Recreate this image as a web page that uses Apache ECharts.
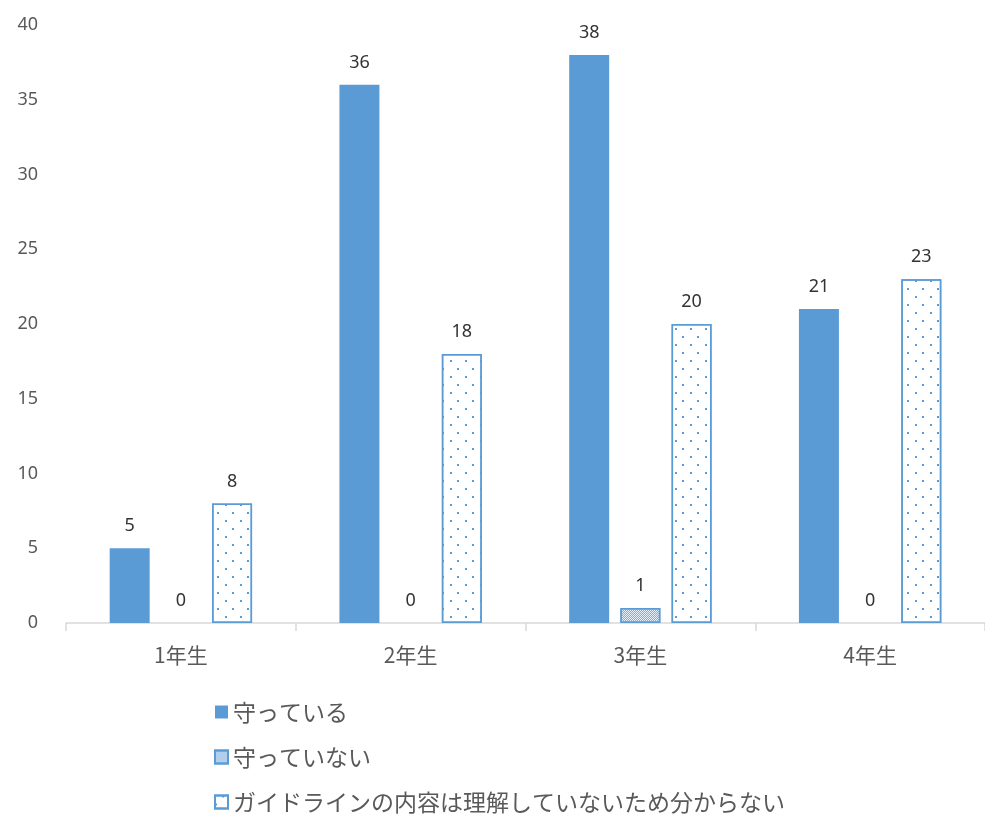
<!DOCTYPE html>
<html>
<head>
<meta charset="utf-8">
<script src="https://cdn.jsdelivr.net/npm/echarts@6/dist/echarts.min.js"></script>
<style>
  html, body { margin: 0; padding: 0; background: #fff; }
  #chart { width: 985px; height: 816px; }
</style>
</head>
<body>
<div id="chart"></div>
<script>
// 学年
const categories = ['1年生', '2年生', '3年生', '4年生'];
const seriesNames = ['守っている', '守っていない', 'ガイドラインの内容は理解していないため分からない'];
// 各回答の人数
const mamotteiru = [5, 36, 38, 21];
const mamotteinai = [0, 0, 1, 0];
const wakaranai = [8, 18, 20, 23];
const yTicks = [0, 5, 10, 15, 20, 25, 30, 35, 40];

const blue = '#5B9BD5';
const labelStyle = {
  show: true,
  position: 'top',
  distance: 13,
  color: '#333333',
  fontSize: 18,
  fontFamily: 'Noto Sans, sans-serif'
};

// 0 のときは枠線を描かない
function noBorderAtZero(arr) {
  return arr.map(v => (v === 0 ? { value: v, itemStyle: { borderWidth: 0 } } : v));
}

const chart = echarts.init(document.getElementById('chart'));
chart.setOption({
  animation: false,
  textStyle: { fontFamily: '"Noto Sans CJK JP", "Noto Sans", sans-serif' },
  grid: { left: 66, top: 25, width: 928, height: 598 },
  legend: {
    orient: 'vertical',
    left: 214,
    top: 697,
    height: 140,
    padding: 0,
    icon: 'rect',
    itemWidth: 13,
    itemHeight: 13,
    itemGap: 15,
    textStyle: { color: '#595959', fontSize: 23, lineHeight: 30, fontFamily: '"Noto Sans CJK JP", sans-serif' },
    data: seriesNames
  },
  xAxis: {
    type: 'category',
    data: categories,
    axisLine: { lineStyle: { color: '#D9D9D9', width: 1.5 } },
    axisTick: { show: true, length: 8, lineStyle: { color: '#D9D9D9', width: 1.5 } },
    axisLabel: { color: '#595959', fontSize: 21, margin: 22 }
  },
  yAxis: {
    type: 'value',
    min: yTicks[0],
    max: yTicks[yTicks.length - 1],
    interval: 5,
    axisLine: { show: false },
    axisTick: { show: false },
    splitLine: { show: false },
    axisLabel: { color: '#595959', fontSize: 18, margin: 28, fontFamily: 'Noto Sans, sans-serif' }
  },
  series: [
    {
      name: seriesNames[0],
      type: 'bar',
      data: mamotteiru,
      barWidth: 40,
      barGap: '28%',
      itemStyle: { color: blue },
      label: labelStyle
    },
    {
      name: seriesNames[1],
      type: 'bar',
      data: noBorderAtZero(mamotteinai),
      barWidth: 40,
      itemStyle: {
        color: '#E3EEF9',
        borderColor: blue,
        borderWidth: 1.5,
        decal: {
          symbol: 'rect',
          symbolSize: 1,
          color: '#7FAFE0',
          dashArrayX: [[1, 1], [0, 1, 1, 0]],
          dashArrayY: [1, 0]
        }
      },
      label: labelStyle
    },
    {
      name: seriesNames[2],
      type: 'bar',
      data: noBorderAtZero(wakaranai),
      barWidth: 40,
      itemStyle: {
        color: '#ffffff',
        borderColor: blue,
        borderWidth: 1.5,
        decal: {
          symbol: 'rect',
          symbolSize: 1,
          color: blue,
          dashArrayX: [[1.5, 12.5], [0, 7, 1.5, 5.5]],
          dashArrayY: [1.5, 5.5]
        }
      },
      label: labelStyle
    }
  ]
});
</script>
</body>
</html>
